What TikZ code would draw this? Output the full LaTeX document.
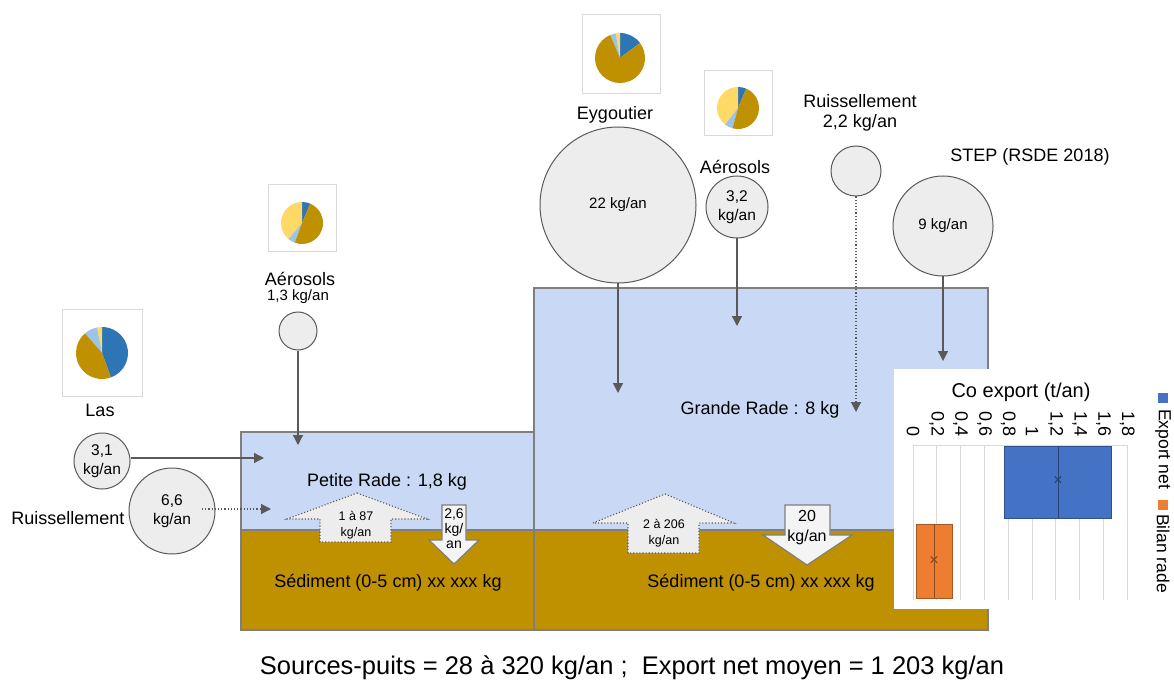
\documentclass[tikz,border=0pt]{standalone}
\usepackage{fontspec}
\setmainfont{Liberation Sans}
\usetikzlibrary{arrows.meta}
\definecolor{water}{HTML}{C9D9F5}
\definecolor{sed}{HTML}{BF9000}
\definecolor{cfill}{HTML}{EDEDED}
\definecolor{cline}{HTML}{595959}
\definecolor{bline}{HTML}{7F7F7F}
\definecolor{pblue}{HTML}{2E75B6}
\definecolor{plblue}{HTML}{9DC3E6}
\definecolor{pyel}{HTML}{FFD966}
\definecolor{pgold}{HTML}{BF9000}
\definecolor{cblue}{HTML}{4472C4}
\definecolor{corange}{HTML}{ED7D31}
\definecolor{gridc}{HTML}{D9D9D9}
\newcommand\pieslice[5]{\fill[#5] #1 -- ++({-(#3)}:#2) arc[start angle={-(#3)}, end angle={-(#4)}, radius=#2] -- cycle;}
\begin{document}
\begin{tikzpicture}[x=1pt,y=-1pt,
  src/.style={circle,draw=cline,fill=cfill,line width=1pt,inner sep=0pt,align=center,font=\fontsize{15.5}{19}\selectfont},
  flow/.style={draw=cline,line width=1.3pt,-{Triangle[length=10pt,width=10pt]}},
  dflow/.style={draw=cline,line width=1.2pt,dotted,-{Triangle[length=10pt,width=10pt]}},
  lbl/.style={font=\fontsize{18}{21}\selectfont,align=center,inner sep=0pt},
  piebox/.style={draw=gridc,fill=white,line width=1pt},
  boxline/.style={draw=bline,line width=1.3pt},
  uparrow/.style={fill=cfill,draw=cline,dotted,line width=1.1pt},
  dnarrow/.style={fill=cfill!60!white,draw=bline,line width=1.2pt},
  btext/.style={align=center,inner sep=0pt,font=\fontsize{12.5}{16}\selectfont},
  axl/.style={rotate=-90,anchor=east,inner sep=0pt,font=\fontsize{18}{20}\selectfont},
  gridl/.style={draw=gridc,line width=0.9pt},
]
\useasboundingbox (0,0) rectangle (1174,684);

% --- basins ---
\fill[water] (241,432) rectangle (534,530);
\fill[sed] (241,530) rectangle (534,630);
\fill[water] (534,288) rectangle (988,530);
\fill[sed] (534,530) rectangle (988,630);
\draw[boxline] (241,530) -- (988,530);
\draw[boxline] (241,432) rectangle (534,630);
\draw[boxline] (534,288) rectangle (988,630);
\node[lbl] (pr) at (387,482) {Petite Rade : 1,8 kg};
\node[lbl] (gr) at (760,410) {Grande Rade : 8 kg};
\node[lbl] (sp) at (388,583) {Sédiment (0-5 cm) xx xxx kg};
\node[lbl] (sg) at (761,583) {Sédiment (0-5 cm) xx xxx kg};

% --- pie boxes ---
\draw[piebox] (62,309) rectangle (142,396);
\pieslice{(102,353)}{26}{-70}{90}{pblue}
\pieslice{(102,353)}{26}{90}{101}{pyel}
\pieslice{(102,353)}{26}{101}{131}{plblue}
\pieslice{(102,353)}{26}{131}{290}{pgold}

\draw[piebox] (268,185) rectangle (336,252);
\pieslice{(302,223)}{21}{67}{90}{pblue}
\pieslice{(302,223)}{21}{90}{230}{pyel}
\pieslice{(302,223)}{21}{230}{250}{plblue}
\pieslice{(302,223)}{21}{250}{427}{pgold}

\draw[piebox] (582,15) rectangle (660,94);
\pieslice{(620,58)}{25}{37}{90}{pblue}
\pieslice{(620,58)}{25}{90}{100}{pyel}
\pieslice{(620,58)}{25}{100}{113}{plblue}
\pieslice{(620,58)}{25}{113}{397}{pgold}

\draw[piebox] (704,71) rectangle (772,136);
\pieslice{(738,108)}{21}{67}{90}{pblue}
\pieslice{(738,108)}{21}{90}{232}{pyel}
\pieslice{(738,108)}{21}{232}{255}{plblue}
\pieslice{(738,108)}{21}{255}{427}{pgold}

% --- labels ---
\node[lbl] (llas) at (100,410) {Las};
\node[lbl] (lrl) at (68,518) {Ruissellement};
\node[lbl] (laep) at (300,279) {Aérosols};
\node[lbl,font=\fontsize{15}{18}\selectfont] (laepv) at (298,297) {1,3 kg/an};
\node[lbl] (leyg) at (615,115) {Eygoutier};
\node[lbl] (laeg) at (735,167) {Aérosols};
\node[lbl] (lrt) at (860,101) {Ruissellement};
\node[lbl] (lrtv) at (860,123) {2,2 kg/an};
\node[lbl] (lstep) at (1030,157) {STEP (RSDE 2018)};

% --- sources ---
\node[src,minimum size=56pt] (las) at (102,461) {3,1\\kg/an};
\node[src,minimum size=86pt] (rl) at (172,511) {6,6\\kg/an};
\node[src,minimum size=38pt] (aep) at (298,331) {};
\node[src,minimum size=156pt,font=\fontsize{15}{18}\selectfont] (eyg) at (618,205) {22 kg/an};
\node[src,minimum size=62pt] (aeg) at (737,207) {3,2\\kg/an};
\node[src,minimum size=50pt] (rt) at (856,171) {};
\node[src,minimum size=100pt,font=\fontsize{15}{18}\selectfont] (step) at (943,226) {9 kg/an};

% --- connectors ---
\coordinate (tlas) at (264,458);
\coordinate (trl) at (271,509);
\coordinate (taep) at (298,445);
\coordinate (teyg) at (618,393);
\coordinate (taeg) at (737,326);
\coordinate (trt) at (856,412);
\coordinate (tstep) at (943,361);
\coordinate (srl) at (202,509);
\draw[flow] (las.east |- tlas) -- (tlas);
\draw[dflow] (srl) -- (trl);
\draw[flow] (aep.south) -- (taep);
\draw[flow] (eyg.south) -- (teyg);
\draw[flow] (aeg.south) -- (taeg);
\draw[dflow] (rt.south) -- (trt);
\draw[flow] (step.south) -- (tstep);

% --- block arrows ---
\draw[uparrow] (357,493) -- (427,519) -- (391,519) -- (391,542) -- (320,542) -- (320,519) -- (287,519) -- cycle;
\node[btext] (ua1) at (356,525) {1 à 87\\kg/an};
\draw[uparrow] (665,494) -- (734,523) -- (699,523) -- (699,553) -- (628,553) -- (628,523) -- (593,523) -- cycle;
\node[btext] (ua2) at (664,533) {2 à 206\\kg/an};
\draw[dnarrow] (442,505) -- (466,505) -- (466,540) -- (479,540) -- (454,564) -- (429,540) -- (442,540) -- cycle;
\node[btext,font=\fontsize{14}{15}\selectfont] (da1) at (454,529) {2,6\\kg/\\an};
\draw[dnarrow] (785,505) -- (830,505) -- (830,535) -- (852,535) -- (807,565) -- (763,535) -- (785,535) -- cycle;
\node[btext,font=\fontsize{16}{20}\selectfont] (da2) at (807,528) {20\\kg/an};

% --- chart inset ---
\fill[white] (894,369) rectangle (1174,609);
\node[font=\fontsize{20}{22}\selectfont,inner sep=0pt] (ctitle) at (1021,392) {Co export (t/an)};
\foreach \v/\t in {0/0,0.2/{0,2},0.4/{0,4},0.6/{0,6},0.8/{0,8},1/1,1.2/{1,2},1.4/{1,4},1.6/{1,6},1.8/{1,8}}{
  \draw[gridl] ({913+\v*119},445) -- ({913+\v*119},600);
  \node[axl] at ({913+\v*119},437) {\t};
}
\draw[gridl] (913,445) -- (1127,445);
\draw[fill=cblue,draw=cblue!70!black,line width=0.6pt] (1004,446) rectangle (1111,518);
\draw[cblue!60!black,line width=0.8pt] (1058,446) -- (1058,518);
\node[cblue!55!black,font=\fontsize{16}{16}\selectfont,inner sep=0pt] (mx1) at (1058,481) {×};
\draw[fill=corange,draw=corange!70!black,line width=0.6pt] (916,524) rectangle (952,598);
\draw[corange!60!black,line width=0.8pt] (934,524) -- (934,598);
\node[corange!55!black,font=\fontsize{16}{16}\selectfont,inner sep=0pt] (mx2) at (934,561) {×};
\fill[cblue] (1158,393) rectangle (1168,403);
\node[rotate=-90,anchor=west,inner sep=0pt,font=\fontsize{17.5}{20}\selectfont] (leg1) at (1163,409) {Export net};
\fill[corange] (1158,500) rectangle (1168,510);
\node[rotate=-90,anchor=west,inner sep=0pt,font=\fontsize{17.5}{20}\selectfont] (leg2) at (1163,514) {Bilan rade};

% --- bottom text ---
\node[font=\fontsize{25.5}{28}\selectfont,inner sep=0pt] (summary) at (632,668) {Sources-puits = 28 à 320 kg/an ;\ \ Export net moyen = 1 203 kg/an};
\end{tikzpicture}
\end{document}
